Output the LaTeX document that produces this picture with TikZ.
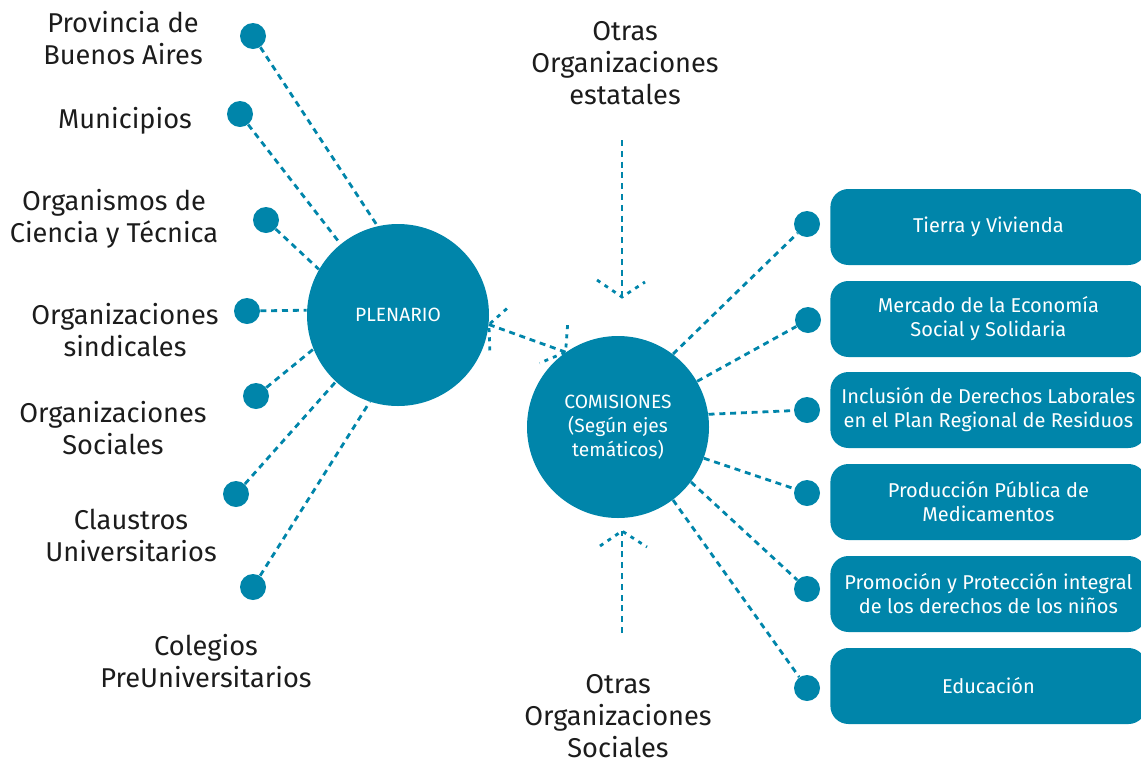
\documentclass[tikz,border=0pt]{standalone}
\usepackage{fontspec}
\setmainfont{Fira Sans}
\definecolor{azul}{RGB}{0,133,170}
\definecolor{texto}{RGB}{28,28,28}

\tikzset{
  punto/.style = {circle, fill=azul, minimum size=13pt, inner sep=0pt},
  grande/.style = {circle, fill=azul, minimum size=91pt, inner sep=0pt,
    text=white, align=center, font=\fontsize{9.6}{12}\selectfont},
  eje/.style = {rectangle, rounded corners=9pt, fill=azul, anchor=west,
    minimum width=158pt, minimum height=38pt, text=white, align=center,
    font=\fontsize{10}{12}\selectfont},
  actor/.style = {align=center, text=texto, inner sep=1pt,
    font=\fontsize{13.6}{16}\selectfont},
  linea/.style = {draw=azul, line width=1.4pt, dash pattern=on 3pt off 2.4pt},
  chev/.style = {draw=azul, line width=1.4pt, dash pattern=on 2pt off 2.6pt},
}

\begin{document}
\begin{tikzpicture}[x=0.5pt, y=-0.5pt]
  \useasboundingbox (0,0) rectangle (1141,761);

  % circulos centrales
  \node[grande] (plen) at (398,315) {PLENARIO};
  \node[grande] (comis) at (618,427) {COMISIONES\\(Según ejes\\temáticos)};

  % actores del plenario
  \node[punto] (d1) at (253,36) {};
  \node[punto] (d2) at (240,114) {};
  \node[punto] (d3) at (266,220) {};
  \node[punto] (d4) at (247,311) {};
  \node[punto] (d5) at (256,396) {};
  \node[punto] (d6) at (236,494) {};
  \node[punto] (d7) at (253,587) {};

  \node[actor] (provincia) at (123,38) {Provincia de\\Buenos Aires};
  \node[actor] (municipios) at (125,121) {Municipios};
  \node[actor] (ciencia) at (114,219) {Organismos de\\Ciencia y Técnica};
  \node[actor] (sindicales) at (125,330) {Organizaciones\\sindicales};
  \node[actor] (sociales) at (113,428) {Organizaciones\\Sociales};
  \node[actor] (claustros) at (131,535) {Claustros\\Universitarios};
  \node[actor] (colegios) at (206,661) {Colegios\\PreUniversitarios};

  \draw[linea] (d1) -- (plen.103);
  \draw[linea] (d2) -- (plen.129);
  \draw[linea] (d3) -- (plen.150);
  \draw[linea] (d4) -- (plen.177);
  \draw[linea] (d5) -- (plen.202);
  \draw[linea] (d6) -- (plen.227);
  \draw[linea] (d7) -- (plen.252);

  % ejes de las comisiones
  \node[punto] (r1) at (807,224) {};
  \node[punto] (r2) at (808,320) {};
  \node[punto] (r3) at (807,410) {};
  \node[punto] (r4) at (807,493) {};
  \node[punto] (r5) at (807,589) {};
  \node[punto] (r6) at (807,688) {};

  \node[eje] (tierra) at (830,227) {Tierra y Vivienda};
  \node[eje] (mercado) at (830,319) {Mercado de la Economía\\Social y Solidaria};
  \node[eje] (inclusion) at (830,410) {Inclusión de Derechos Laborales\\en el Plan Regional de Residuos};
  \node[eje] (produccion) at (830,502) {Producción Pública de\\Medicamentos};
  \node[eje] (promocion) at (830,594) {Promoción y Protección integral\\de los derechos de los niños};
  \node[eje] (educacion) at (830,686) {Educación};

  \draw[linea] (comis.53) -- (r1);
  \draw[linea] (comis.30) -- (r2);
  \draw[linea] (comis.8) -- (r3);
  \draw[linea] (comis.-20) -- (r4);
  \draw[linea] (comis.-37) -- (r5);
  \draw[linea] (comis.-53) -- (r6);

  % plenario <-> comisiones
  \draw[linea] (plen.-6) -- (comis.125);
  \draw[chev] ([shift={(18,-16)}]plen.-6) -- (plen.-6) -- ++(1,28);
  \draw[chev] ([shift={(2,-27)}]comis.125) -- (comis.125) -- ++(-26,11);

  % otras organizaciones
  \node[actor] (estatales) at (625,63) {Otras\\Organizaciones\\estatales};
  \node[actor] (otrasSoc) at (618,716) {Otras\\Organizaciones\\Sociales};
  \coordinate (topStart) at (622,140);
  \coordinate (topTip) at (622,297);
  \coordinate (botStart) at (622,633);
  \coordinate (botTip) at (622,531);

  \draw[linea] (topStart) -- (topTip);
  \draw[chev] ([shift={(-25,-17)}]topTip) -- (topTip) -- ++(23,-15);
  \draw[linea] (botStart) -- (botTip);
  \draw[chev] ([shift={(-22,15)}]botTip) -- (botTip) -- ++(25,16);
\end{tikzpicture}
\end{document}
